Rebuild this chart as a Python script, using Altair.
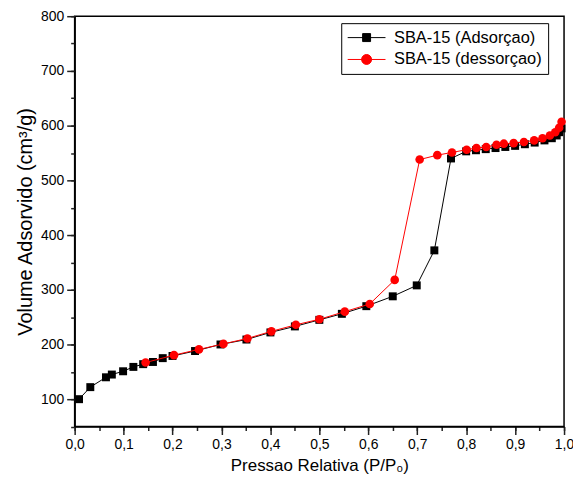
import altair as alt
import pandas as pd

ads_name = "SBA-15 (Adsorçao)"
des_name = "SBA-15 (dessorçao)"

ads_x = [0.009, 0.032, 0.064, 0.076, 0.099, 0.12, 0.14, 0.16, 0.18, 0.20, 0.246, 0.298,
         0.351, 0.40, 0.45, 0.50, 0.546, 0.596, 0.65, 0.699, 0.735, 0.769, 0.80, 0.82,
         0.84, 0.86, 0.88, 0.90, 0.92, 0.94, 0.96, 0.975, 0.985, 0.99, 0.995]
ads_y = [100, 122, 140, 145, 151, 159, 164, 168, 175, 179, 188, 200,
         209, 222, 233, 245, 256, 270, 288, 308, 372, 540, 553, 555,
         557, 559, 561, 563, 566, 569, 573, 577, 582, 588, 595]

des_x = [0.995, 0.99, 0.982, 0.971, 0.956, 0.939, 0.918, 0.897, 0.877, 0.862, 0.841,
         0.821, 0.801, 0.771, 0.741, 0.705, 0.654, 0.603, 0.552, 0.50, 0.452, 0.402,
         0.353, 0.304, 0.254, 0.203, 0.145]
des_y = [607, 596, 588, 582, 577, 573, 570, 568, 567, 565, 561,
         559, 556, 551, 546, 538, 318, 274, 260, 246, 236, 224,
         211, 201, 191, 180.5, 167]

x_major = [round(i * 0.1, 1) for i in range(11)]
x_minor = [round(i * 0.05, 2) for i in range(21)]
y_major = list(range(100, 801, 100))
y_minor = list(range(50, 801, 50))

df = pd.concat([
    pd.DataFrame({"p": ads_x, "v": ads_y, "serie": ads_name}),
    pd.DataFrame({"p": des_x, "v": des_y, "serie": des_name}),
], ignore_index=True)

FONT = "Liberation Sans"

# legend symbols: short line with the marker in its middle (unit = 8 px)
sq_path = "M-1,0H3.75M0.875,-0.5H1.875V0.5H0.875Z"
ci_path = "M-1,0H3.75M2,0A0.625,0.625 0 1,1 0.75,0A0.625,0.625 0 1,1 2,0Z"

xscale = alt.Scale(domain=[0, 1], nice=False)
yscale = alt.Scale(domain=[50, 800], nice=False)

xaxis = alt.Axis(
    title="Pressao Relativa (P/P₀)", orient="bottom",
    values=x_major, format=".1f",
    labelExpr="replace(datum.label, '.', ',')",
    tickSize=8, labelPadding=3, titlePadding=6, grid=False,
    titleFontSize=17, labelFlush=False, labelOverlap=False,
)
yaxis = alt.Axis(
    title="Volume Adsorvido (cm³/g)", orient="left",
    values=y_major, format="d",
    tickSize=8, labelPadding=3, titlePadding=5, grid=False,
    titleFontSize=20, labelFlush=False, labelOverlap=False,
)
xaxis_minor = alt.Axis(title=None, orient="bottom", values=x_minor, labels=False,
                       domain=False, tickSize=4, grid=False)
yaxis_minor = alt.Axis(title=None, orient="left", values=y_minor, labels=False,
                       domain=False, tickSize=4, grid=False)

legend = alt.Legend(
    title=None, orient="none", legendX=268, legendY=7, direction="vertical",
    symbolType={"expr": f"datum.value === '{ads_name}' ? '{sq_path}' : '{ci_path}'"},
    symbolSize=256, symbolStrokeWidth=1,
    symbolFillColor={"expr": f"datum.value === '{ads_name}' ? 'black' : 'red'"},
    symbolStrokeColor={"expr": f"datum.value === '{ads_name}' ? 'black' : 'red'"},
    labelFont=FONT, labelFontSize=16.5, labelColor="black", labelOffset=30,
    strokeColor="black", padding=6, rowPadding=5, labelLimit=300,
)

C = alt.Color("serie:N", scale=alt.Scale(domain=[ads_name, des_name], range=["black", "red"]),
              legend=legend)

base = alt.Chart(df).encode(
    x=alt.X("p:Q", scale=xscale, axis=xaxis),
    y=alt.Y("v:Q", scale=yscale, axis=yaxis),
    color=C,
)

layers = []
for name, shape in [(ads_name, "square"), (des_name, "circle")]:
    b = base.transform_filter(alt.datum.serie == name)
    layers.append(b.mark_line(strokeWidth=1))
    layers.append(b.mark_point(shape=shape, filled=True,
                               size=64 if shape == "square" else 75, opacity=1))

main = alt.layer(*layers)

minor = alt.Chart(df).mark_point(opacity=0).encode(
    x=alt.X("p:Q", scale=xscale, axis=xaxis_minor),
    y=alt.Y("v:Q", scale=yscale, axis=yaxis_minor),
)

chart = alt.layer(minor, main).resolve_axis(x="independent", y="independent").properties(
    width=492, height=412.5,
    autosize=alt.AutoSizeParams(type="none"),
    padding={"left": 67, "top": 7, "right": 9, "bottom": 52},
    background="white",
).configure_view(stroke="black", strokeWidth=1.5).configure_axis(
    domainColor="black", domainWidth=1.5, tickColor="#222", tickWidth=1.5,
    labelFont=FONT, labelFontSize=14, labelColor="black",
    titleFont=FONT, titleFontWeight="normal", titleColor="black",
)

chart.save("out.html", embed_options={"renderer": "svg", "actions": False})
